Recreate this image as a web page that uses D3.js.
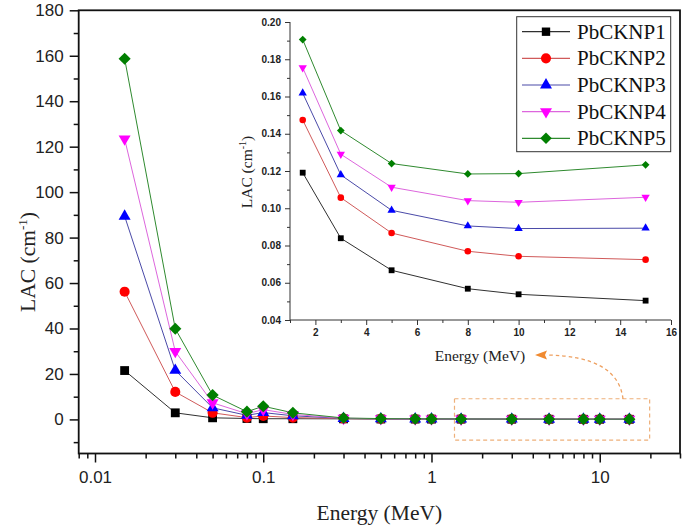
<!DOCTYPE html>
<html><head><meta charset="utf-8">
<script src="https://cdn.jsdelivr.net/npm/d3@7"></script>
<style>
html,body{margin:0;padding:0;background:#fff;}
svg{display:block;}
</style></head>
<body>
<svg id="chart" width="685" height="527"></svg>
<script>
// ---------- data ----------
const energies = [0.015, 0.03, 0.05, 0.08, 0.1, 0.15, 0.3, 0.5, 0.8, 1, 1.5, 3, 5, 8, 10, 15];
const seriesNames = ["PbCKNP1", "PbCKNP2", "PbCKNP3", "PbCKNP4", "PbCKNP5"];
const pb1 = [21.5, 2.9, 0.7, 0.4, 0.3, 0.3, 0.24, 0.17, 0.14, 0.13, 0.1191, 0.0839, 0.0667, 0.0568, 0.0538, 0.0504];
const pb2 = [56.2, 12.1, 2.9, 0.8, 1.5, 0.8, 0.35, 0.23, 0.18, 0.165, 0.1474, 0.1057, 0.0867, 0.0769, 0.0742, 0.0724];
const pb3 = [89.4, 21.6, 5.1, 1.8, 3.0, 1.6, 0.43, 0.27, 0.20, 0.18, 0.1618, 0.1179, 0.0989, 0.0905, 0.0891, 0.0893];
const pb4 = [123.4, 29.9, 7.3, 2.5, 4.3, 2.2, 0.52, 0.31, 0.23, 0.205, 0.1755, 0.1290, 0.1113, 0.1041, 0.1032, 0.1059];
const pb5 = [158.7, 39.9, 10.7, 3.4, 5.8, 2.9, 0.62, 0.36, 0.26, 0.23, 0.1906, 0.1417, 0.1240, 0.1184, 0.1186, 0.1233];
const seriesValues = [pb1, pb2, pb3, pb4, pb5];
const mainYTicks = [0, 20, 40, 60, 80, 100, 120, 140, 160, 180];
const mainXTicks = [0.01, 0.1, 1, 10];
const insetXTicks = [2, 4, 6, 8, 10, 12, 14, 16];
const insetYTicks = [0.04, 0.06, 0.08, 0.10, 0.12, 0.14, 0.16, 0.18, 0.20];

// ---------- styles ----------
const markerFill = ["#000000", "#ff0000", "#0000ff", "#ff00ff", "#007f00"];
const lineColor = ["#303030", "#d05a5a", "#4a4aa8", "#dd66dd", "#2f8a2f"];
const shapes = ["square", "circle", "triangle", "tridown", "diamond"];

const svg = d3.select("#chart");
const sansFont = "'Liberation Sans', Arial, sans-serif";
const serifFont = "'Liberation Serif', 'Times New Roman', serif";

function symbolPath(shape, size) {
  let t;
  if (shape === "square" || shape === "diamond") t = d3.symbolSquare;
  else if (shape === "circle") t = d3.symbolCircle;
  else t = d3.symbolTriangle;
  return d3.symbol().type(t).size(size)();
}
function symbolRotate(shape) {
  if (shape === "tridown") return 180;
  if (shape === "diamond") return 45;
  return 0;
}
const mainSizes = {square: 78, circle: 80, triangle: 62, tridown: 62, diamond: 74};
const insetSizes = {square: 34, circle: 34, triangle: 30, tridown: 30, diamond: 30};
const legendSizes = {square: 70, circle: 80, triangle: 62, tridown: 62, diamond: 66};

// ---------- main plot ----------
const L = 78.7, R = 680, T = 10.3, B = 453.5;
const x = d3.scaleLog().domain([0.008, 30]).range([L, R]);
const y = d3.scaleLinear().domain([-15, 180]).range([B, T]);

// dashed zoom box (behind data)
svg.append("rect")
  .attr("x", x(1.37)).attr("y", y(9.1))
  .attr("width", x(19.8) - x(1.37)).attr("height", y(-9.1) - y(9.1))
  .attr("fill", "none").attr("stroke", "#eeb07a").attr("stroke-width", 1.2)
  .attr("stroke-dasharray", "4,3");

// minor & major ticks x
const xMinor = [];
[0.001, 0.01, 0.1, 1, 10].forEach(d => { for (let k = 2; k <= 9; k++) { const v = d * k; if (v >= 0.008 && v <= 30) xMinor.push(v); } });
const gx = svg.append("g").attr("transform", `translate(0,${B})`);
gx.append("g").call(d3.axisBottom(x).tickValues(xMinor).tickSize(5).tickFormat(""))
  .call(g => g.select(".domain").remove())
  .selectAll("line").attr("stroke", "#111").attr("stroke-width", 1.5);
gx.append("g").call(d3.axisBottom(x).tickValues(mainXTicks).tickSize(9).tickPadding(8).tickFormat(d => d3.format("~g")(d)))
  .call(g => g.select(".domain").remove())
  .call(g => g.selectAll("line").attr("stroke", "#111").attr("stroke-width", 1.5))
  .call(g => g.selectAll("text").attr("font-family", sansFont).attr("font-size", 17).attr("fill", "#222"));

const yMinor = d3.range(-10, 181, 10).filter(v => v % 20 !== 0);
const gy = svg.append("g").attr("transform", `translate(${L},0)`);
gy.append("g").call(d3.axisLeft(y).tickValues(yMinor).tickSize(5).tickFormat(""))
  .call(g => g.select(".domain").remove())
  .selectAll("line").attr("stroke", "#111").attr("stroke-width", 1.5);
gy.append("g").call(d3.axisLeft(y).tickValues(mainYTicks).tickSize(9).tickPadding(6))
  .call(g => g.select(".domain").remove())
  .call(g => g.selectAll("line").attr("stroke", "#111").attr("stroke-width", 1.5))
  .call(g => g.selectAll("text").attr("font-family", sansFont).attr("font-size", 17).attr("fill", "#222"));

// frame
svg.append("rect").attr("x", L).attr("y", T).attr("width", R - L).attr("height", B - T)
  .attr("fill", "none").attr("stroke", "#111").attr("stroke-width", 1.8);

// axis titles
svg.append("text").attr("x", (L + R) / 2).attr("y", 520).attr("text-anchor", "middle")
  .attr("font-family", serifFont).attr("font-size", 21.5).attr("fill", "#222").text("Energy (MeV)");
const yt = svg.append("text").attr("transform", "translate(35,262) rotate(-90)").attr("text-anchor", "middle")
  .attr("font-family", serifFont).attr("font-size", 21.5).attr("fill", "#222");
yt.append("tspan").text("LAC (cm");
yt.append("tspan").attr("font-size", 13).attr("dy", -8).text("-1");
yt.append("tspan").attr("dy", 8).text(")");

// series lines & markers (main)
const lineMain = d3.line().x((d, i) => x(energies[i])).y(d => y(d));
seriesValues.forEach((vals, s) => {
  svg.append("path").datum(vals).attr("d", lineMain).attr("fill", "none")
    .attr("stroke", lineColor[s]).attr("stroke-width", 1);
});
seriesValues.forEach((vals, s) => {
  svg.append("g").selectAll("path").data(vals).join("path")
    .attr("d", symbolPath(shapes[s], mainSizes[shapes[s]]))
    .attr("transform", (d, i) => `translate(${x(energies[i])},${y(d)}) rotate(${symbolRotate(shapes[s])})`)
    .attr("fill", markerFill[s]);
});

// ---------- inset ----------
const iL = 290, iR = 671, iT = 22, iB = 320;
const xi = d3.scaleLinear().domain([1, 16]).range([iL, iR]);
const yi = d3.scaleLinear().domain([0.04, 0.20]).range([iB, iT]);

const gix = svg.append("g").attr("transform", `translate(0,${iB})`);
gix.append("g").call(d3.axisBottom(xi).tickValues(d3.range(1, 17, 1).filter(v => v % 2 !== 0)).tickSize(3).tickFormat(""))
  .call(g => g.select(".domain").remove())
  .selectAll("line").attr("stroke", "#333");
gix.append("g").call(d3.axisBottom(xi).tickValues(insetXTicks).tickSize(5).tickPadding(4))
  .call(g => g.select(".domain").attr("stroke", "#333").attr("d", `M${iL},0H${iR}`))
  .call(g => g.selectAll("line").attr("stroke", "#333"))
  .call(g => g.selectAll("text").attr("font-family", sansFont).attr("font-size", 10).attr("font-weight", "bold").attr("fill", "#222"));

const giy = svg.append("g").attr("transform", `translate(${iL},0)`);
giy.append("g").call(d3.axisLeft(yi).tickValues(d3.range(0.05, 0.20, 0.02)).tickSize(3).tickFormat(""))
  .call(g => g.select(".domain").remove())
  .selectAll("line").attr("stroke", "#333");
giy.append("g").call(d3.axisLeft(yi).tickValues(insetYTicks).tickSize(5).tickPadding(4).tickFormat(d3.format(".2f")))
  .call(g => g.select(".domain").attr("stroke", "#333").attr("d", `M0,${iT}V${iB}`))
  .call(g => g.selectAll("line").attr("stroke", "#333"))
  .call(g => g.selectAll("text").attr("font-family", sansFont).attr("font-size", 10).attr("font-weight", "bold").attr("fill", "#222"));

svg.append("text").attr("x", 480).attr("y", 361).attr("text-anchor", "middle")
  .attr("font-family", serifFont).attr("font-size", 15.5).attr("fill", "#222").text("Energy (MeV)");
const iyt = svg.append("text").attr("transform", "translate(252,172) rotate(-90)").attr("text-anchor", "middle")
  .attr("font-family", serifFont).attr("font-size", 15.5).attr("fill", "#222");
iyt.append("tspan").text("LAC (cm");
iyt.append("tspan").attr("font-size", 10).attr("dy", -6).text("-1");
iyt.append("tspan").attr("dy", 6).text(")");

const insetIdx = energies.map((e, i) => i).filter(i => energies[i] >= 1.5);
const lineInset = d3.line().x(i => xi(energies[i]));
seriesValues.forEach((vals, s) => {
  svg.append("path").datum(insetIdx)
    .attr("d", lineInset.y(i => yi(vals[i]))).attr("fill", "none")
    .attr("stroke", lineColor[s]).attr("stroke-width", 1);
  svg.append("g").selectAll("path").data(insetIdx).join("path")
    .attr("d", symbolPath(shapes[s], insetSizes[shapes[s]]))
    .attr("transform", i => `translate(${xi(energies[i])},${yi(vals[i])}) rotate(${symbolRotate(shapes[s])})`)
    .attr("fill", markerFill[s]);
});

// ---------- arrow ----------
svg.append("path").attr("d", "M623,399 Q618,356 546,355")
  .attr("fill", "none").attr("stroke", "#eea060").attr("stroke-width", 1.3).attr("stroke-dasharray", "3.5,3");
svg.append("path").attr("d", "M535,355 L547,350.5 L545,355 L547,359.5 Z").attr("fill", "#f08a30");

// ---------- legend ----------
const lg = svg.append("g");
lg.append("rect").attr("x", 516.7).attr("y", 16.7).attr("width", 154).attr("height", 135)
  .attr("fill", "#fff").attr("stroke", "#333").attr("stroke-width", 1);
const legendY = d3.scalePoint().domain(seriesNames).range([31.7, 138.3]);
seriesNames.forEach((name, s) => {
  const cy = legendY(name);
  lg.append("line").attr("x1", 522).attr("x2", 570).attr("y1", cy).attr("y2", cy)
    .attr("stroke", lineColor[s]).attr("stroke-width", 1.2);
  lg.append("path").attr("d", symbolPath(shapes[s], legendSizes[shapes[s]]))
    .attr("transform", `translate(546,${cy}) rotate(${symbolRotate(shapes[s])})`)
    .attr("fill", markerFill[s]);
  lg.append("text").attr("x", 577).attr("y", cy + 7).attr("font-family", serifFont)
    .attr("font-size", 21).attr("fill", "#111").text(name);
});
</script>
</body></html>
